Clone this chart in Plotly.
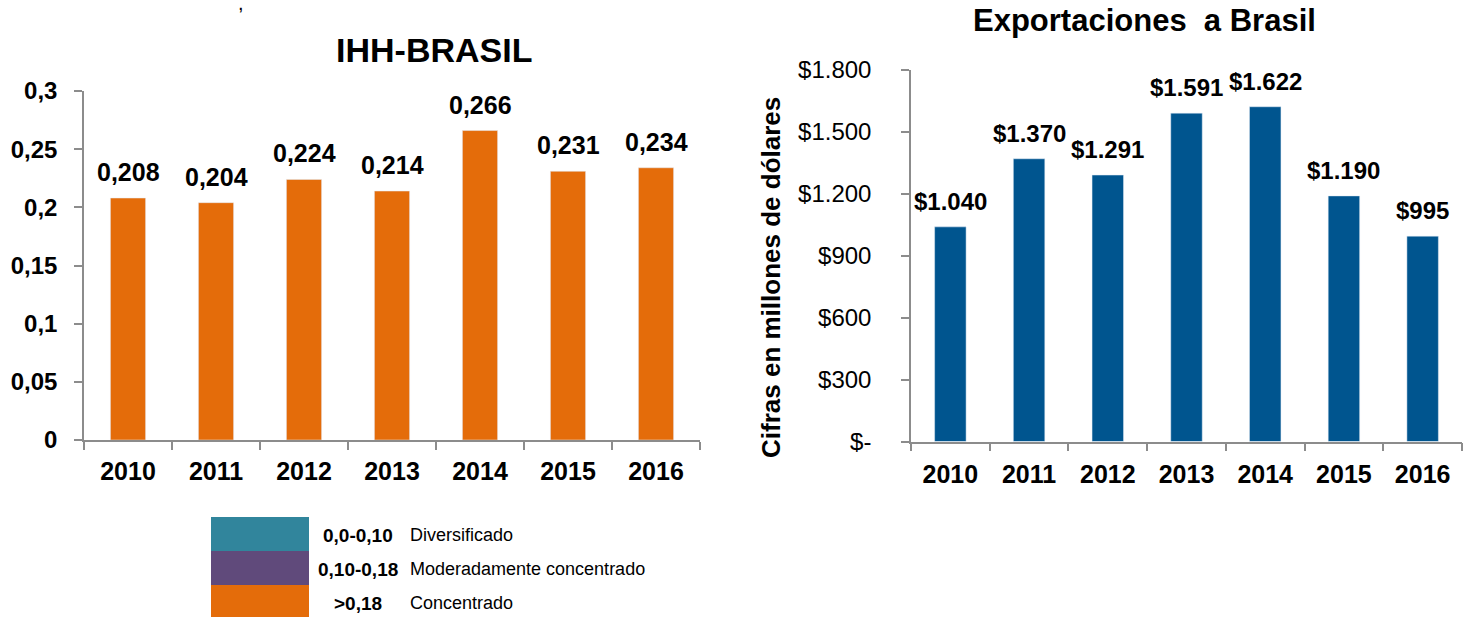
import plotly.graph_objects as go

# ---- data ----
years = ["2010", "2011", "2012", "2013", "2014", "2015", "2016"]
ihh_values = [0.208, 0.204, 0.224, 0.214, 0.266, 0.231, 0.234]
export_values = [1040, 1370, 1291, 1591, 1622, 1190, 995]

ihh_ticks = [0, 0.05, 0.1, 0.15, 0.2, 0.25, 0.3]
export_ticks = [0, 300, 600, 900, 1200, 1500, 1800]
export_tick_text = ["$-", "$300", "$600", "$900", "$1.200", "$1.500", "$1.800"]

legend_ranges = ["0,0-0,10", "0,10-0,18", ">0,18"]
legend_labels = ["Diversificado", "Moderadamente concentrado", "Concentrado"]
legend_colors = ["#31859C", "#604A7B", "#E46C0A"]

title_left = "IHH-BRASIL"
title_right = "Exportaciones&nbsp; a Brasil"
ytitle_right = "Cifras en millones de dólares"

ORANGE = "#E46C0A"
BLUE = "#00558F"
AXIS = "#8C8C8C"
W, H = 1467, 617
FONT = "Liberation Sans, Arial, sans-serif"


def fmt_ihh(v):
    return f"{v:.3f}".replace(".", ",")


def fmt_exp(v):
    return "$" + f"{v:,}".replace(",", ".")


fig = go.Figure()
fig.add_trace(go.Bar(x=years, y=ihh_values, marker_color=ORANGE, xaxis="x", yaxis="y",
                     showlegend=False, hoverinfo="x+y"))
fig.add_trace(go.Bar(x=years, y=export_values, marker_color=BLUE, xaxis="x2", yaxis="y2",
                     showlegend=False, hoverinfo="x+y"))

annotations = []
for i, v in enumerate(ihh_values):
    annotations.append(dict(x=i, y=v, xref="x", yref="y", text=fmt_ihh(v), showarrow=False,
                            yanchor="bottom", yshift=10,
                            font=dict(family=FONT, size=25, color="black", weight="bold")))
for i, v in enumerate(export_values):
    annotations.append(dict(x=i, y=v, xref="x2", yref="y2", text=fmt_exp(v), showarrow=False,
                            yanchor="bottom", yshift=10,
                            font=dict(family=FONT, size=24, color="black", weight="bold")))

# titles
annotations.append(dict(x=434 / W, y=1 - 50 / H, xref="paper", yref="paper", text=title_left,
                        showarrow=False, xanchor="center", yanchor="middle",
                        font=dict(family=FONT, size=34, color="black", weight="bold")))
annotations.append(dict(x=1144 / W, y=1 - 20 / H, xref="paper", yref="paper", text=title_right,
                        showarrow=False, xanchor="center", yanchor="middle",
                        font=dict(family=FONT, size=31, color="black", weight="bold")))
annotations.append(dict(x=771 / W, y=1 - 278 / H, xref="paper", yref="paper", text=ytitle_right,
                        showarrow=False, textangle=-90, xanchor="center", yanchor="middle",
                        font=dict(family=FONT, size=26, color="black", weight="bold")))
# stray comma at top
annotations.append(dict(x=241 / W, y=1 - 3 / H, xref="paper", yref="paper", text=",",
                        showarrow=False, xanchor="center", yanchor="middle",
                        font=dict(family=FONT, size=20, color="black")))

# legend table
shapes = []
row_tops = [517, 551, 585]
row_h = 34
for i, (rng, lab, col) in enumerate(zip(legend_ranges, legend_labels, legend_colors)):
    top = row_tops[i]
    bot = min(top + row_h, H)
    shapes.append(dict(type="rect", xref="paper", yref="paper",
                       x0=211 / W, x1=309 / W, y0=1 - bot / H, y1=1 - top / H,
                       fillcolor=col, line=dict(width=0)))
    yc = 1 - (top + 18) / H
    annotations.append(dict(x=358 / W, y=yc, xref="paper", yref="paper", text=rng,
                            showarrow=False, xanchor="center", yanchor="middle",
                            font=dict(family=FONT, size=19, color="black", weight="bold")))
    annotations.append(dict(x=408 / W, y=yc, xref="paper", yref="paper", text=lab,
                            showarrow=False, xanchor="left", yanchor="middle",
                            font=dict(family=FONT, size=18, color="black")))

tickfont_bold = dict(family=FONT, size=25, color="black", weight="bold")

common = dict(showline=True, linecolor=AXIS, linewidth=1.5,
              ticks="outside", ticklen=8, tickcolor=AXIS, tickwidth=1.5,
              showgrid=False, zeroline=False, automargin=False)

fig.update_layout(
    width=W, height=H,
    margin=dict(l=0, r=0, t=0, b=0, autoexpand=False),
    paper_bgcolor="white", plot_bgcolor="white",
    separators=",.",
    bargap=0.6,
    annotations=annotations,
    shapes=shapes,
    xaxis=dict(domain=[84 / W, 700 / W], anchor="y", type="category", range=[-0.5, 6.5],
               tickson="boundaries", tickangle=0,
               tickfont=tickfont_bold, ticklabelstandoff=8, **common),
    yaxis=dict(domain=[1 - 440 / H, 1 - 91 / H], anchor="x", range=[0, 0.3],
               tickvals=ihh_ticks, tickfont=dict(family=FONT, size=24, color="black", weight="bold"),
               ticklabelstandoff=12, **common),
    xaxis2=dict(domain=[911 / W, 1462 / W], anchor="y2", type="category", range=[-0.5, 6.5],
                tickson="boundaries", tickangle=0,
                tickfont=tickfont_bold, ticklabelstandoff=10, **common),
    yaxis2=dict(domain=[1 - 441.5 / H, 1 - 70 / H], anchor="x2", range=[0, 1800],
                tickvals=export_ticks, ticktext=export_tick_text,
                tickfont=dict(family=FONT, size=24, color="black"),
                ticklabelstandoff=25, **common),
)

fig.write_html("out.html",
               config={"displayModeBar": False},
               post_script="document.body.style.margin='0';document.body.style.overflow='hidden';")
